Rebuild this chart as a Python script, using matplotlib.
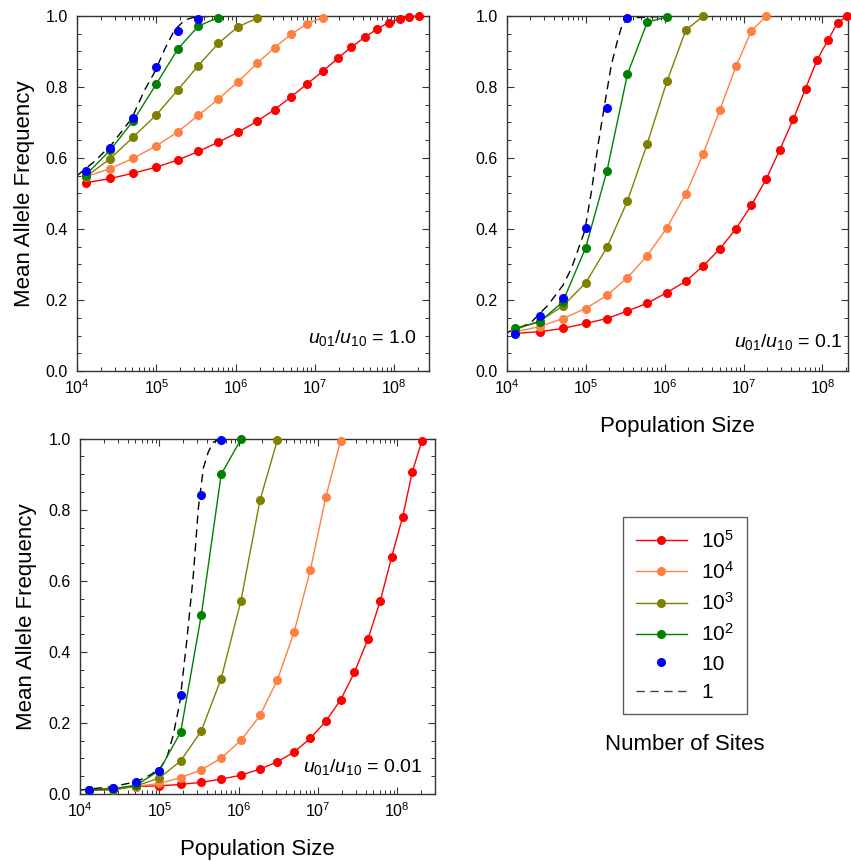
import numpy as np
import matplotlib
matplotlib.use('Agg')
import matplotlib.pyplot as plt
from matplotlib.lines import Line2D
from matplotlib.ticker import LogLocator, MultipleLocator, FixedLocator, FixedFormatter

plt.rcParams['font.family'] = ['Liberation Sans', 'DejaVu Sans']
plt.rcParams['mathtext.fontset'] = 'custom'
plt.rcParams['mathtext.rm'] = 'Liberation Sans'
plt.rcParams['mathtext.it'] = 'Liberation Sans:italic'

# population sizes shared by all series
pop_size = [1.29e4, 2.63e4, 5.13e4, 1.0e5, 1.86e5, 3.39e5, 6.03e5, 1.07e6, 1.86e6,
            3.09e6, 5.01e6, 8.04e6, 1.26e7, 1.93e7, 2.88e7, 4.27e7, 6.10e7, 8.51e7,
            1.17e8, 1.55e8, 2.04e8]

# panel 1: u01/u10 = 1.0
p1_red = [0.530, 0.542, 0.557, 0.574, 0.594, 0.618, 0.644, 0.672, 0.703, 0.736, 0.772,
          0.809, 0.844, 0.880, 0.912, 0.940, 0.963, 0.981, 0.992, 0.997, 1.0]
p1_orange = [0.547, 0.570, 0.599, 0.634, 0.673, 0.720, 0.765, 0.814, 0.866, 0.910, 0.948,
             0.978, 0.995]
p1_olive = [0.547, 0.598, 0.659, 0.721, 0.791, 0.860, 0.922, 0.969, 0.993]
p1_green = [0.552, 0.622, 0.705, 0.808, 0.906, 0.971, 0.995]
p1_blue = [0.563, 0.628, 0.711, 0.856, 0.957, 0.992]
p1_dash_logN = [4.0, 4.22, 4.43, 4.69, 4.85, 4.98, 5.11, 5.23, 5.36, 5.46, 5.7, 6.13]
p1_dash = [0.550, 0.590, 0.636, 0.711, 0.790, 0.842, 0.908, 0.960, 0.988, 0.995, 0.999, 1.0]

# panel 2: u01/u10 = 0.1
p2_red = [0.106, 0.111, 0.120, 0.134, 0.148, 0.169, 0.191, 0.221, 0.253, 0.296, 0.344,
          0.401, 0.467, 0.540, 0.623, 0.709, 0.795, 0.875, 0.931, 0.980, 0.999]
p2_orange = [0.111, 0.125, 0.148, 0.176, 0.213, 0.263, 0.325, 0.403, 0.499, 0.612, 0.735,
             0.858, 0.958, 0.998]
p2_olive = [0.117, 0.141, 0.183, 0.248, 0.348, 0.479, 0.640, 0.815, 0.960, 0.999]
p2_green = [0.120, 0.139, 0.195, 0.347, 0.563, 0.836, 0.982, 0.997]
p2_blue = [0.105, 0.156, 0.206, 0.402, 0.739, 0.993]
p2_dash_logN = [4.0, 4.3, 4.525, 4.714, 4.82, 4.989, 5.073, 5.157, 5.24, 5.325, 5.41,
                5.47, 5.578, 5.87, 6.10]
p2_dash = [0.108, 0.135, 0.186, 0.242, 0.289, 0.395, 0.505, 0.636, 0.749, 0.861, 0.936,
           0.979, 0.994, 0.997, 1.0]

# panel 3: u01/u10 = 0.01
p3_red = [0.011, 0.016, 0.021, 0.023, 0.027, 0.033, 0.042, 0.053, 0.070, 0.091, 0.118,
          0.157, 0.205, 0.265, 0.342, 0.436, 0.543, 0.667, 0.780, 0.907, 0.993]
p3_orange = [0.011, 0.013, 0.021, 0.030, 0.046, 0.068, 0.101, 0.151, 0.221, 0.322, 0.456,
             0.631, 0.837, 0.994]
p3_olive = [0.011, 0.011, 0.023, 0.045, 0.093, 0.178, 0.325, 0.544, 0.827, 0.997]
p3_green = [0.011, 0.015, 0.025, 0.066, 0.174, 0.505, 0.900, 0.998]
p3_blue = [0.011, 0.018, 0.034, 0.065, 0.278, 0.841, 0.996]
p3_dash_logN = [4.0, 4.42, 4.714, 4.882, 5.008, 5.092, 5.176, 5.26, 5.345, 5.429, 5.492,
                5.555, 5.618, 5.68, 5.765, 6.0]
p3_dash = [0.011, 0.021, 0.035, 0.053, 0.072, 0.100, 0.166, 0.26, 0.429, 0.616, 0.804,
           0.917, 0.963, 0.99, 0.999, 1.0]

site_labels = [r'10$^5$', r'10$^4$', r'10$^3$', r'10$^2$', '10', '1']
colors = ['#ff0000', '#ff8040', '#808000', '#008000', '#0000ff']
xtick_labels = [r'10$^4$', r'10$^5$', r'10$^6$', r'10$^7$', r'10$^8$']

fig = plt.figure(figsize=(8.51, 8.61), dpi=100)
ax1 = fig.add_axes([0.0905, 0.569, 0.4136, 0.4127])
ax2 = fig.add_axes([0.5954, 0.569, 0.4010, 0.4127])
ax3 = fig.add_axes([0.0940, 0.0778, 0.4170, 0.4127])

panels = [
    (ax1, [p1_red, p1_orange, p1_olive, p1_green], p1_blue, p1_dash_logN, p1_dash,
     2.74e8, r'$u_{01}/u_{10}$ = 1.0', (0.965, 0.093)),
    (ax2, [p2_red, p2_orange, p2_olive, p2_green], p2_blue, p2_dash_logN, p2_dash,
     2.1e8, r'$u_{01}/u_{10}$ = 0.1', (0.985, 0.082)),
    (ax3, [p3_red, p3_orange, p3_olive, p3_green], p3_blue, p3_dash_logN, p3_dash,
     2.98e8, r'$u_{01}/u_{10}$ = 0.01', (0.966, 0.077)),
]

for ax, lines, blue, dash_logN, dash, xmax, label, pos in panels:
    ax.plot(10 ** np.array(dash_logN), dash, color='black', lw=1.0, ls=(0, (6, 4)),
            zorder=2)
    for vals, c in zip(lines, colors[:4]):
        ax.plot(pop_size[:len(vals)], vals, color=c, lw=1.0, marker='o', ms=5.5,
                mec=c, mfc=c, clip_on=False, zorder=3)
    ax.plot(pop_size[:len(blue)], blue, ls='none', marker='o', ms=5.5, color=colors[4],
            clip_on=False, zorder=4)
    ax.set_xscale('log')
    ax.set_xlim(1e4, xmax)
    ax.set_ylim(0, 1.0)
    ax.xaxis.set_major_locator(FixedLocator([1e4, 1e5, 1e6, 1e7, 1e8]))
    ax.xaxis.set_major_formatter(FixedFormatter(xtick_labels))
    ax.xaxis.set_minor_locator(LogLocator(base=10, subs=np.arange(2, 10), numticks=20))
    ax.yaxis.set_major_locator(MultipleLocator(0.2))
    ax.yaxis.set_minor_locator(MultipleLocator(0.05))
    ax.yaxis.set_major_formatter(plt.FuncFormatter(lambda v, p: f'{v:.1f}'))
    ax.tick_params(which='both', direction='in', top=True, right=True, labelsize=11.5,
                   color='#333333')
    ax.tick_params(which='major', length=5, width=0.8)
    ax.tick_params(which='minor', length=3, width=0.7)
    ax.tick_params(axis='x', pad=5)
    ax.tick_params(axis='y', pad=6.5)
    for s in ax.spines.values():
        s.set_color('#333333')
        s.set_linewidth(1.0)
    ax.text(pos[0], pos[1], label, transform=ax.transAxes, ha='right', va='center',
            fontsize=14)

ax1.set_ylabel('Mean Allele Frequency', fontsize=16, labelpad=8)
ax3.set_ylabel('Mean Allele Frequency', fontsize=16, labelpad=8)
ax2.set_xlabel('Population Size', fontsize=16, labelpad=14)
ax3.set_xlabel('Population Size', fontsize=16, labelpad=14)

handles = []
for c, lab in zip(colors[:4], site_labels[:4]):
    handles.append(Line2D([], [], color=c, lw=1.0, marker='o', ms=5.5, label=lab))
handles.append(Line2D([], [], color=colors[4], ls='none', marker='o', ms=5.5,
                      label=site_labels[4]))
handles.append(Line2D([], [], color='#444444', lw=1.0, ls=(0, (6, 4)), label=site_labels[5]))

leg = fig.legend(handles=handles, loc='upper left', bbox_to_anchor=(623 / 851, 1 - 517 / 861),
                 borderaxespad=0, frameon=True, fancybox=False, fontsize=15,
                 handlelength=2.45, labelspacing=0.45, borderpad=0.6, handletextpad=0.7)
leg.get_frame().set_edgecolor('#333333')
leg.get_frame().set_linewidth(1.0)
fig.text(685 / 851, 1 - 745 / 861, 'Number of Sites', ha='center', va='center',
         fontsize=16)

fig.savefig('out.png', dpi=100)
